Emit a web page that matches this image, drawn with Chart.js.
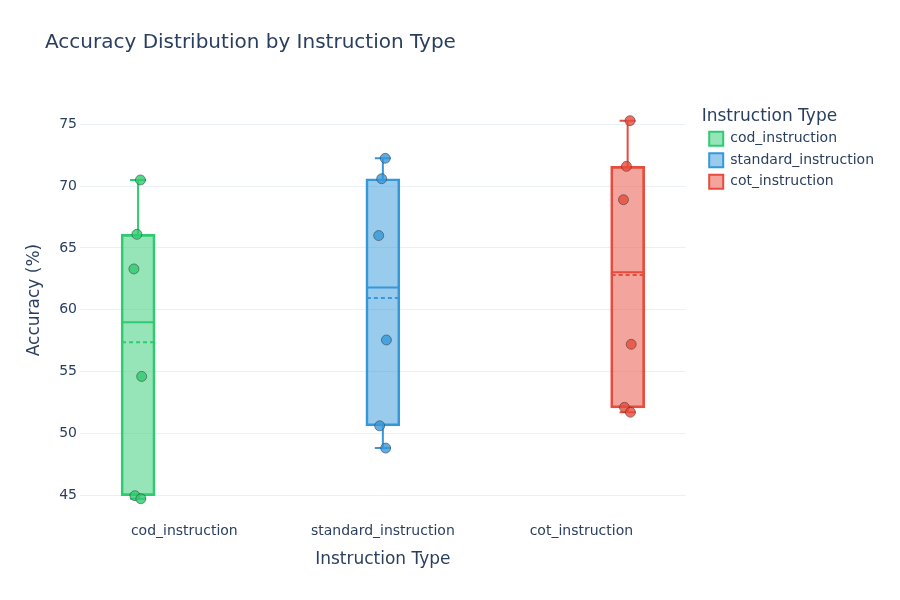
<!DOCTYPE html>
<html>
<head>
<meta charset="utf-8">
<script src="https://cdn.jsdelivr.net/npm/chart.js@4.4.1/dist/chart.umd.min.js"></script>
<style>
  html, body { margin: 0; padding: 0; background: #fff; }
  #wrap { width: 900px; height: 600px; }
</style>
</head>
<body>
<div id="wrap"><canvas id="chart"></canvas></div>
<script>
const categories = ["cod_instruction", "standard_instruction", "cot_instruction"]
const codPoints = [70.5, 66.1, 63.3, 54.6, 44.95, 44.7]
const standardPoints = [72.25, 70.6, 66.0, 57.55, 50.6, 48.8]
const cotPoints = [75.3, 71.6, 68.9, 57.2, 52.1, 51.7]
const q1Values = [44.95, 50.6, 52.05]
const medianValues = [58.98, 61.8, 63.03]
const q3Values = [66.1, 70.6, 71.6]
const meanValues = [57.36, 60.94, 62.8]
const lowerWhiskers = [44.7, 48.8, 51.7]
const upperWhiskers = [70.5, 72.25, 75.3]
const jitter = [0.012, -0.006, -0.021, 0.018, -0.016, 0.014]
const yTicks = [45, 50, 55, 60, 65, 70, 75]

const textColor = "#2a3f5f"
const fontFamily = '"DejaVu Sans", Verdana, sans-serif'
const lineColors = ["#2ecc71", "#3498db", "#e74c3c"]
const fillColors = ["rgba(46, 204, 113, 0.5)", "rgba(52, 152, 219, 0.5)", "rgba(231, 76, 60, 0.5)"]
const dotColors = ["rgba(46, 204, 113, 0.8)", "rgba(52, 152, 219, 0.8)", "rgba(231, 76, 60, 0.8)"]

Chart.defaults.font.family = fontFamily
Chart.defaults.color = textColor

// décalage de chaque groupe dans sa catégorie (boxmode "group")
const groupOffset = 0.233
const pointSets = [codPoints, standardPoints, cotPoints]

const boxDatasets = categories.map((name, i) => ({
    type: "bar",
    label: name,
    data: [{ x: i + (i - 1) * groupOffset, y: [q1Values[i], q3Values[i]] }],
    backgroundColor: fillColors[i],
    borderColor: lineColors[i],
    borderWidth: 2,
    borderSkipped: false,
    barThickness: 34,
    grouped: false,
    order: 2
}))

const pointDatasets = pointSets.map((vals, i) => ({
    type: "scatter",
    label: categories[i] + " points",
    data: vals.map((v, k) => ({ x: i + (i - 1) * groupOffset + jitter[k], y: v })),
    backgroundColor: dotColors[i],
    borderColor: "rgba(60, 60, 60, 0.55)",
    borderWidth: 1,
    pointRadius: 5,
    clip: false,
    order: 1
}))

// moustaches, médiane et moyenne dessinées juste après chaque boîte
const boxPlugin = {
    id: "boxStats",
    afterDatasetDraw(chart, args) {
        const i = args.index
        if (i > 2) return
        const bar = args.meta.data[0]
        if (!bar) return
        const ctx = chart.ctx
        const y = chart.scales.y
        const x = bar.x
        const half = bar.width / 2 - 1
        const cap = 8

        ctx.save()
        ctx.strokeStyle = lineColors[i]
        ctx.lineWidth = 2

        ctx.beginPath()
        ctx.moveTo(x, y.getPixelForValue(q3Values[i]))
        ctx.lineTo(x, y.getPixelForValue(upperWhiskers[i]))
        ctx.moveTo(x, y.getPixelForValue(q1Values[i]))
        ctx.lineTo(x, y.getPixelForValue(lowerWhiskers[i]))
        ctx.moveTo(x - cap, y.getPixelForValue(upperWhiskers[i]))
        ctx.lineTo(x + cap, y.getPixelForValue(upperWhiskers[i]))
        ctx.moveTo(x - cap, y.getPixelForValue(lowerWhiskers[i]))
        ctx.lineTo(x + cap, y.getPixelForValue(lowerWhiskers[i]))
        ctx.moveTo(x - half, y.getPixelForValue(medianValues[i]))
        ctx.lineTo(x + half, y.getPixelForValue(medianValues[i]))
        ctx.stroke()

        ctx.setLineDash([4, 3])
        ctx.beginPath()
        ctx.moveTo(x - half, y.getPixelForValue(meanValues[i]))
        ctx.lineTo(x + half, y.getPixelForValue(meanValues[i]))
        ctx.stroke()
        ctx.restore()
    }
}

// titre principal et décalage de la légende, comme sur plotly
const titlePlugin = {
    id: "mainTitle",
    afterLayout(chart) {
        const legend = chart.legend
        if (!legend) return
        const dx = chart.chartArea.right + 16 - legend.left
        legend.left += dx
        legend.right += dx
    },
    afterDraw(chart) {
        const ctx = chart.ctx
        ctx.save()
        ctx.fillStyle = textColor
        ctx.font = "20px " + fontFamily
        ctx.textBaseline = "middle"
        ctx.textAlign = "left"
        ctx.fillText("Accuracy Distribution by Instruction Type", 45, 43)
        ctx.restore()
    }
}

const config = {
    type: "bar",
    data: {
        datasets: [...boxDatasets, ...pointDatasets]
    },
    options: {
        responsive: true,
        maintainAspectRatio: false,
        animation: false,
        layout: { padding: { top: 100, right: 32, left: 0, bottom: 0 } },
        scales: {
            x: {
                type: "linear",
                offset: false,
                min: -0.5255,
                max: 2.5255,
                grid: { display: false, offset: false },
                border: { display: false },
                afterBuildTicks: (scale) => { scale.ticks = categories.map((c, i) => ({ value: i })) },
                ticks: {
                    color: textColor,
                    font: { size: 14 },
                    padding: 15,
                    callback: (value) => categories[value]
                },
                title: {
                    display: true,
                    text: "Instruction Type",
                    color: textColor,
                    font: { size: 17 },
                    padding: { top: 0, bottom: 29.8 }
                },
                afterFit: (scale) => { scale.height = 100 }
            },
            y: {
                min: 44.6,
                max: 76.97,
                grid: { color: "#ebf0f8", drawTicks: false },
                border: { display: false },
                ticks: { color: textColor, font: { size: 14 }, padding: 3 },
                afterBuildTicks: (scale) => { scale.ticks = yTicks.map(v => ({ value: v })) },
                title: {
                    display: true,
                    text: "Accuracy (%)",
                    color: textColor,
                    font: { size: 17 },
                    padding: { top: 24.8, bottom: 0 }
                },
                afterFit: (scale) => { scale.width = 80 }
            }
        },
        plugins: {
            tooltip: { enabled: false },
            legend: {
                position: "right",
                align: "start",
                title: {
                    display: true,
                    position: "start",
                    text: "Instruction Type",
                    color: textColor,
                    font: { size: 17 },
                    padding: { top: 8, bottom: -4.2 }
                },
                labels: {
                    filter: (item) => item.datasetIndex < 3,
                    boxWidth: 14,
                    boxHeight: 14,
                    padding: 7.5,
                    color: textColor,
                    font: { size: 14 }
                }
            }
        }
    },
    plugins: [boxPlugin, titlePlugin]
}

new Chart(document.querySelector("#chart"), config)
</script>
</body>
</html>
